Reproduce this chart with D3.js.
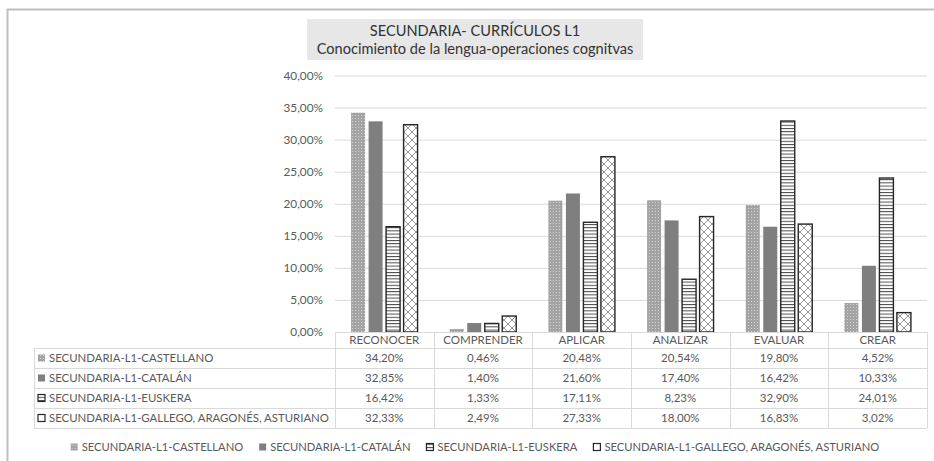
<!DOCTYPE html>
<html>
<head>
<meta charset="utf-8">
<script src="https://cdn.jsdelivr.net/npm/d3@7"></script>
<style>
  body { margin: 0; background: #fff; }
  svg { display: block; font-family: Lato, "Open Sans", sans-serif; }
</style>
</head>
<body>
<div id="chart"></div>
<script>
// data
var categories = ["RECONOCER", "COMPRENDER", "APLICAR", "ANALIZAR", "EVALUAR", "CREAR"];
var seriesNames = [
    "SECUNDARIA-L1-CASTELLANO",
    "SECUNDARIA-L1-CATALÁN",
    "SECUNDARIA-L1-EUSKERA",
    "SECUNDARIA-L1-GALLEGO, ARAGONÉS, ASTURIANO"
];
var castellano = [0.3420, 0.0046, 0.2048, 0.2054, 0.1980, 0.0452];
var catalan    = [0.3285, 0.0140, 0.2160, 0.1740, 0.1642, 0.1033];
var euskera    = [0.1642, 0.0133, 0.1711, 0.0823, 0.3290, 0.2401];
var gallego    = [0.3233, 0.0249, 0.2733, 0.1800, 0.1683, 0.0302];
var yTicks = [0, 0.05, 0.10, 0.15, 0.20, 0.25, 0.30, 0.35, 0.40];
var titleLines = ["SECUNDARIA- CURRÍCULOS L1", "Conocimiento de la lengua-operaciones cognitvas"];

var values = [castellano, catalan, euskera, gallego];
var fills = ["url(#pDots)", "#7f7f7f", "url(#pHoriz)", "url(#pHatch)"];
var keyFills = ["url(#pDots)", "#7f7f7f", "url(#pHoriz)", "#fff"];
var strokes = ["none", "none", "#262626", "#262626"];

var W = 934, H = 461;
var textColor = "#595959", gridColor = "#d9d9d9";

var svg = d3.select("#chart").append("svg")
    .attr("width", W)
    .attr("height", H);

// patterns
var defs = svg.append("defs");
var p1 = defs.append("pattern").attr("id", "pDots")
    .attr("patternUnits", "userSpaceOnUse").attr("width", 3).attr("height", 3);
p1.append("rect").attr("width", 3).attr("height", 3).attr("fill", "#a3a3a3");
p1.append("rect").attr("x", 1).attr("y", 1).attr("width", 1).attr("height", 1).attr("fill", "#d4d4d4");

var p2 = defs.append("pattern").attr("id", "pHoriz")
    .attr("patternUnits", "userSpaceOnUse").attr("width", 4).attr("height", 3.2);
p2.append("rect").attr("width", 4).attr("height", 3.2).attr("fill", "#fff");
p2.append("line").attr("x1", 0).attr("x2", 4).attr("y1", 0.5).attr("y2", 0.5)
    .attr("stroke", "#333").attr("stroke-width", 0.9);

var p3 = defs.append("pattern").attr("id", "pHatch")
    .attr("patternUnits", "userSpaceOnUse").attr("width", 8).attr("height", 8);
p3.append("rect").attr("width", 8).attr("height", 8).attr("fill", "#fff");
p3.append("path").attr("d", "M0,0L8,8M8,0L0,8M-1,7L1,9M7,-1L9,1")
    .attr("stroke", "#6a6a6a").attr("stroke-width", 0.7).attr("fill", "none");

// outer frame
svg.append("line").attr("x1", 7).attr("x2", W).attr("y1", 9.5).attr("y2", 9.5)
    .attr("stroke", "#bfbfbf").attr("stroke-width", 2);
svg.append("line").attr("x1", 7.5).attr("x2", 7.5).attr("y1", 9).attr("y2", H)
    .attr("stroke", "#bfbfbf").attr("stroke-width", 2);

// title box
svg.append("rect").attr("x", 307).attr("y", 19).attr("width", 336).attr("height", 41)
    .attr("fill", "#e7e7e7");
svg.append("g").selectAll("text").data(titleLines).enter().append("text")
    .attr("x", 475)
    .attr("y", function(d, i) { return 31 + i * 18; })
    .attr("dy", "0.35em")
    .attr("text-anchor", "middle")
    .attr("font-size", 14.6)
    .attr("fill", "#333")
    .text(function(d) { return d; });

var plotLeft = 335, plotRight = 927, plotTop = 75.5, plotBottom = 332;

var x = d3.scaleBand().domain(categories).range([plotLeft, plotRight]);
var xs = d3.scaleBand().domain(d3.range(seriesNames.length))
    .range([0, x.bandwidth()]).paddingInner(0.2).paddingOuter(0.92);
var y = d3.scaleLinear().domain([0, 0.40]).range([plotBottom, plotTop]);

var locale = d3.formatLocale({ decimal: ",", thousands: ".", grouping: [3], currency: ["", "€"] });
var pct = locale.format(".2%");

// grid + y axis
var yAxis = svg.append("g")
    .attr("transform", "translate(" + plotLeft + ",0)")
    .call(d3.axisLeft(y).tickValues(yTicks).tickFormat(pct)
        .tickSize(-(plotRight - plotLeft)).tickPadding(12));
yAxis.select(".domain").remove();
yAxis.selectAll(".tick line").attr("stroke", gridColor)
    .filter(function(d) { return d === 0; }).remove();
yAxis.selectAll(".tick text")
    .attr("fill", textColor)
    .attr("font-size", 11.8)
    .attr("font-family", "Lato, 'Open Sans', sans-serif");

// bars
var groups = svg.append("g").selectAll("g").data(values).enter().append("g");
groups.each(function(vals, si) {
    d3.select(this).selectAll("rect").data(vals).enter().append("rect")
        .attr("x", function(d, ci) { return x(categories[ci]) + xs(si); })
        .attr("y", function(d) { return y(d); })
        .attr("width", xs.bandwidth())
        .attr("height", function(d) { return y(0) - y(d); })
        .attr("fill", fills[si])
        .attr("stroke", strokes[si])
        .attr("stroke-width", 1.4);
});

// data table
var tableLeft = 34, headerTop = plotBottom, rowH = 20, headerH = 16;
var rowTop = function(i) { return headerTop + headerH + i * rowH; };
var tableBottom = rowTop(seriesNames.length);
var table = svg.append("g").attr("stroke", gridColor).attr("stroke-width", 1);

// horizontal lines
table.append("line").attr("x1", plotLeft).attr("x2", plotRight)
    .attr("y1", headerTop + 0.5).attr("y2", headerTop + 0.5);
d3.range(seriesNames.length + 1).forEach(function(i) {
    table.append("line").attr("x1", tableLeft).attr("x2", plotRight)
        .attr("y1", rowTop(i) + 0.5).attr("y2", rowTop(i) + 0.5);
});
// vertical lines
table.append("line").attr("x1", tableLeft + 0.5).attr("x2", tableLeft + 0.5)
    .attr("y1", rowTop(0)).attr("y2", tableBottom);
categories.forEach(function(c) {
    table.append("line").attr("x1", Math.round(x(c)) + 0.5).attr("x2", Math.round(x(c)) + 0.5)
        .attr("y1", headerTop).attr("y2", tableBottom);
});
table.append("line").attr("x1", plotRight + 0.5).attr("x2", plotRight + 0.5)
    .attr("y1", headerTop).attr("y2", tableBottom);

// header labels
svg.append("g").selectAll("text").data(categories).enter().append("text")
    .attr("x", function(d) { return x(d) + x.bandwidth() / 2; })
    .attr("y", headerTop + headerH / 2)
    .attr("dy", "0.35em")
    .attr("text-anchor", "middle")
    .attr("font-size", 11.5)
    .attr("fill", textColor)
    .text(function(d) { return d; });

// legend key
function key(sel, si, kx, ky) {
    sel.append("rect")
        .attr("x", kx).attr("y", ky).attr("width", 7).attr("height", 7)
        .attr("fill", keyFills[si])
        .attr("stroke", strokes[si]).attr("stroke-width", 1.2);
}

// rows
values.forEach(function(vals, si) {
    var cy = rowTop(si) + rowH / 2;
    var row = svg.append("g");
    key(row, si, 38, cy - 3.5);
    row.append("text")
        .attr("x", 49).attr("y", cy).attr("dy", "0.35em")
        .attr("font-size", 11.4).attr("fill", textColor)
        .text(seriesNames[si]);
    row.selectAll("text.v").data(vals).enter().append("text")
        .attr("class", "v")
        .attr("x", function(d, ci) { return x(categories[ci]) + x.bandwidth() / 2; })
        .attr("y", cy).attr("dy", "0.35em")
        .attr("text-anchor", "middle")
        .attr("font-size", 11.5).attr("fill", textColor)
        .text(function(d) { return pct(d); });
});

// bottom legend
var legend = svg.append("g");
var items = legend.selectAll("g").data(seriesNames).enter().append("g");
items.append("text")
    .attr("x", 11).attr("y", 0).attr("dy", "0.35em")
    .attr("font-size", 11.2).attr("fill", textColor)
    .text(function(d) { return d; });
items.each(function(d, si) { key(d3.select(this), si, 0, -3.5); });
var lx = 0;
items.each(function() {
    var g = d3.select(this);
    g.attr("transform", "translate(" + lx + ",0)");
    lx += 11 + g.select("text").node().getComputedTextLength() + 16;
});
lx -= 16;
legend.attr("transform", "translate(" + (475 - lx / 2) + ",447)");
</script>
</body>
</html>
